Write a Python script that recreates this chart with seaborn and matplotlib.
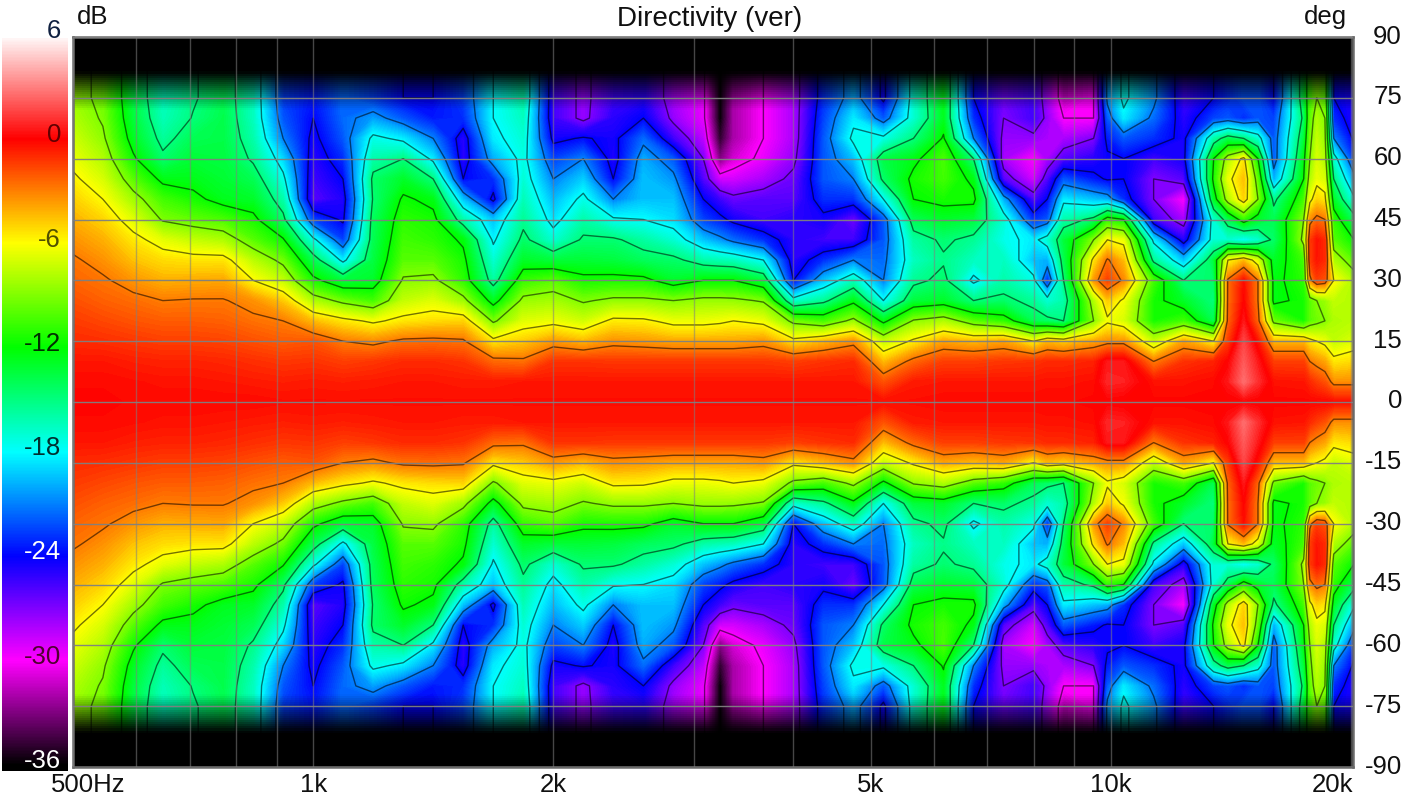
import numpy as np
import matplotlib
matplotlib.use("Agg")
import matplotlib.pyplot as plt
from matplotlib.colors import LinearSegmentedColormap
from matplotlib.transforms import ScaledTranslation
import seaborn as sns

sns.set_style("white")
plt.rcParams["font.family"] = ["Liberation Sans", "DejaVu Sans"]

angles = [0, 5, 10, 15, 20, 25, 30, 35, 40, 45, 50, 55, 60, 65, 70, 75]
freqs = [500, 545, 595, 648, 707, 771, 841, 917, 1000, 1090, 1189, 1297, 1414, 1542, 1682, 1834,
         2000, 2181, 2378, 2594, 2828, 3084, 3236, 3364, 3668, 4000, 4362, 4757, 5187, 5657, 6169,
         6727, 7336, 8000, 8325, 8724, 9514, 9900, 10375, 11314, 12338, 13454, 14020, 14672, 15290,
         16000, 17448, 17760, 18120, 18550, 19027, 20749]

c500 = [-.1, -.2, -.5, -1, -1.4, -1.9, -2.4, -2.8, -3.5, -4.2, -4.9, -5.7, -6.5, -7.2, -7.9, -8.4]
c545 = [-.1, -.2, -.5, -1.1, -1.7, -2.3, -2.8, -3.5, -4.2, -5, -6, -7, -7.9, -8.7, -9.2, -9.4]
c595 = [-.2, -.3, -.7, -1.3, -2, -2.6, -3.6, -4.6, -5.5, -6.8, -8.3, -10, -11.7, -12.8, -13.4, -13.7]
c648 = [-.2, -.4, -.8, -1.5, -2.2, -3, -4.2, -5.2, -6.7, -9.2, -10.5, -12.5, -14.6, -15.6, -16.3, -16.5]
c707 = [-.2, -.4, -.8, -1.5, -2.2, -2.9, -4.1, -5.4, -7.5, -9.8, -11.5, -12.6, -13.3, -14, -14.9, -15.2]
c771 = [-.2, -.5, -.9, -1.6, -2.3, -2.9, -4, -5.4, -8, -10.3, -12.7, -13.2, -13.5, -13.7, -13.8, -14]
c841 = [-.2, -.6, -1.1, -1.9, -2.7, -3.5, -6, -7.7, -10, -11.5, -13, -14, -15.3, -16, -16.5, -16.5]
c917 = [-.3, -.7, -1.3, -2.2, -3, -4.8, -7.5, -9.5, -11.8, -14.5, -16, -17.5, -19, -21, -22, -22.5]
c1000 = [-.3, -.6, -1.2, -2, -4.5, -8, -11.5, -14, -17.5, -22.5, -26, -25.5, -25, -24.5, -24, -23.5]
c1090 = [-.3, -.7, -1.5, -3, -5.5, -9.5, -13.5, -18.5, -22.5, -24.3, -24.8, -24, -23, -22, -21.5, -21.5]
c1189 = [-.3, -.6, -1.3, -3.4, -6.3, -10.5, -13, -13.6, -14, -14.2, -14.8, -14.5, -16, -17.5, -20.3, -22.5]
c1297 = [-.3, -.5, -1, -2.7, -5.5, -7.5, -8.8, -10, -10.5, -11, -11.7, -13, -15, -18.5, -22, -24]
c1414 = [-.3, -.5, -1, -2.6, -5.2, -6.8, -8.6, -10, -11, -11.5, -12.5, -15, -18.5, -21, -23.5, -24]
c1542 = [-.3, -.6, -1.2, -2.8, -5, -8.4, -11, -11.5, -12.3, -16, -19.5, -24, -25, -25, -23, -22.5]
c1682 = [-.3, -.6, -2.5, -5.5, -9.3, -12.8, -15.8, -17, -18.3, -19.5, -24.5, -23, -20, -18.5, -18, -18]
c1834 = [-.3, -.5, -2.7, -4.8, -6.8, -8.5, -10.8, -13, -14.5, -15.5, -16.3, -17, -17.4, -17, -16.5, -16]
c2000 = [-.3, -.5, -1.2, -3.7, -6.5, -8.2, -10, -13.5, -17, -18.7, -19.7, -21, -22.5, -24.5, -25.5, -25.5]
c2181 = [-.3, -.5, -1.2, -4.4, -7.2, -9.2, -11.5, -13.3, -14.7, -16, -17.5, -19.2, -21, -23.8, -27.5, -27.5]
c2378 = [-.3, -.5, -1.3, -3.5, -5.6, -8.6, -11.4, -13.5, -14.7, -17.7, -21, -24, -24.8, -24.5, -25, -25.5]
c2594 = [-.3, -.5, -1.3, -3.7, -5.7, -8.6, -11.5, -14.2, -15.8, -18, -19.5, -19.5, -20, -21.5, -24, -25]
c2828 = [-.3, -.5, -1.3, -4, -6.5, -9, -13, -14.5, -17, -18.8, -19.5, -20.5, -22, -25.5, -27.5, -28]
c3084 = [-.3, -.5, -1.3, -4, -6.5, -8.5, -12, -16, -19.5, -22.5, -24, -26, -27, -28.5, -29.5, -29.5]
c3236 = [-.3, -.5, -1.3, -4, -6.3, -8.5, -12, -16.3, -20.5, -23.5, -25.5, -29, -33, -35, -36, -36]
c3364 = [-.3, -.5, -1.3, -4, -6, -8.6, -12, -16.5, -21.5, -24.5, -26.5, -29, -31, -32, -32, -32]
c3668 = [-.3, -.5, -1.3, -3.6, -6.5, -9.2, -13.5, -18, -23, -25.5, -26, -28, -29.5, -30, -30, -30]
c4000 = [-.3, -.5, -1.5, -5.5, -9.5, -17, -24, -25, -25, -25, -26, -26.5, -27.5, -28, -28, -28]
c4362 = [-.3, -.5, -1.2, -4.5, -10.5, -15.5, -19.5, -23, -25.5, -24.5, -23, -22, -22, -22, -22.5, -23]
c4757 = [-.3, -.5, -1, -3.5, -8.5, -12.5, -16.5, -21, -25.5, -26.5, -23, -21, -19.5, -17.5, -18.5, -20]
c5187 = [-.3, -2, -4.5, -7.5, -12.5, -18, -21, -21.5, -22, -22, -18, -14.5, -13.7, -17.5, -22, -24.5]
c5657 = [-.3, -.6, -2.5, -5.7, -8.8, -13.5, -15.5, -16.5, -15.8, -14, -12, -11.5, -12.5, -15, -17, -17]
c6169 = [-.2, -.5, -1.5, -4, -8, -13, -14.5, -15.2, -14.7, -13, -11.5, -10.5, -10.3, -11.8, -12.8, -12.5]
c6727 = [-.2, -.5, -1.5, -4.5, -10, -15, -18.5, -16.5, -15.5, -13.5, -11.5, -12.5, -15, -21, -23, -24]
c7336 = [-.2, -.5, -1.3, -4, -11, -14.5, -16, -16.5, -17.5, -17, -20, -26, -28, -27.5, -27, -26.5]
c8000 = [-.2, -.5, -1.2, -6, -14, -15.6, -17.5, -19.5, -18.5, -23, -26, -29, -30, -27.5, -25.5, -25.5]
c8325 = [-.2, -.4, -1, -4.5, -14.5, -17, -23, -20, -17, -22, -24, -26, -28, -28, -27.5, -28]
c8724 = [-.2, -.4, -1, -5, -15, -16, -15, -14, -13.5, -16, -18.5, -22, -26, -28, -30, -31]
c9514 = [-.1, -.3, -.8, -4, -9, -8, -3.7, -5.5, -9, -14.5, -19.5, -23.5, -25, -27, -30, -30]
c9900 = [0, .8, .5, -3.5, -6.3, -4.8, -1.5, -2.8, -6, -11, -20, -24.2, -24.3, -23.5, -22, -20.5]
c10375 = [-.1, .7, .5, -3.5, -7, -6.3, -3.3, -4.5, -6.5, -12, -23, -24, -24, -22, -18.5, -17.5]
c11314 = [-.1, -.4, -3, -7.5, -11.5, -11.5, -10.5, -15.5, -18.5, -25.5, -27, -27, -25.5, -23, -21.5, -20.5]
c12338 = [-.1, -.4, -1.2, -4, -10.5, -13, -15, -19.5, -25, -28, -30, -26, -24.5, -24.5, -25, -25.5]
c13454 = [-.1, -.2, -.8, -6, -14, -15, -14.5, -13.5, -17, -17, -13, -11.5, -12, -16, -22.5, -24]
c14020 = [-.1, .5, 0, -1.5, -2.5, -2.7, -2.8, -6, -17, -14, -8, -6.5, -8, -14, -22, -23]
c14672 = [0, 2.5, 2, 1.5, .5, -.1, -.3, -4.5, -18, -11, -5, -4.5, -5.5, -15, -23, -22]
c15290 = [-.1, 1, .5, -.5, -2.5, -3, -3, -7, -17, -13, -9, -10, -12, -17, -22, -22]
c16000 = [-.1, -.4, -1.5, -4.5, -9.5, -12.5, -12.5, -13, -14.5, -14, -15.5, -20, -22, -22, -22.5, -24]
c17448 = [-.1, -.5, -1.5, -4.5, -11.5, -11.5, -11, -10.5, -8.5, -9, -10.5, -12, -12.5, -13.5, -14.5, -13.5]
c17760 = [-.1, -1, -3, -5.5, -10, -10, -3.5, -1.5, -1.5, -3.5, -6.5, -8, -9, -9.5, -10, -10.5]
c18120 = [-.1, -1.5, -3.5, -6, -9.5, -9, -1.5, -.5, -.4, -2.5, -5, -6.5, -7, -7.5, -8, -9]
c18550 = [-.1, -2, -4, -6.5, -9, -8.5, -2, -1, -1, -3, -5.5, -7, -8, -8.5, -9, -10]
c19027 = [-.2, -3.5, -5.5, -7.5, -8, -7.5, -6, -8, -10, -11, -13, -15, -17, -21, -23, -24]
c20749 = [-.2, -3.5, -5, -6.5, -7.5, -8, -9, -11, -13, -16, -20, -23, -26, -26, -26, -25]

columns = [c500, c545, c595, c648, c707, c771, c841, c917, c1000, c1090, c1189, c1297, c1414, c1542,
           c1682, c1834, c2000, c2181, c2378, c2594, c2828, c3084, c3236, c3364, c3668, c4000, c4362,
           c4757, c5187, c5657, c6169, c6727, c7336, c8000, c8325, c8724, c9514, c9900, c10375, c11314,
           c12338, c13454, c14020, c14672, c15290, c16000, c17448, c17760, c18120, c18550, c19027, c20749]

db_scale_labels = ["6", "0", "-6", "-12", "-18", "-24", "-30", "-36"]
db_scale_values = [6, 0, -6, -12, -18, -24, -30, -36]
db_label_colors = ["#102040", "#600000", "#505000", "#003000", "#003030", "white", "#500030", "white"]
angle_ticks = [90, 75, 60, 45, 30, 15, 0, -15, -30, -45, -60, -75, -90]
minor_freqs = [600, 700, 800, 900, 3000, 4000, 6000, 7000, 8000, 9000]
major_freqs = [500, 1000, 2000, 5000, 10000, 20000]
major_labels = ["500Hz", "1k", "2k", "5k", "10k", "20k"]
contour_levels = [-30, -27, -24, -21, -18, -15, -12, -9, -6, -3]

W, H = 1416, 798
fig = plt.figure(figsize=(W / 100, H / 100), dpi=100, facecolor="white")


def axes_px(x0, y0, x1, y1):
    return fig.add_axes([x0 / W, 1 - y1 / H, (x1 - x0) / W, (y1 - y0) / H])


cmap = LinearSegmentedColormap.from_list(
    "dir",
    [(0, "black"), (1 / 7, "#ff00ff"), (2 / 7, "#0000ff"), (3 / 7, "#00ffff"),
     (4 / 7, "#00ff00"), (5 / 7, "#ffff00"), (6 / 7, "#ff0000"), (1, "white")],
    N=512,
)

# colour scale strip on the left
cax = axes_px(2, 38, 68, 771)
bar_levels = np.linspace(5.73, -36.28, 733).reshape(-1, 1)
sns.heatmap(bar_levels, cmap=cmap, vmin=-36, vmax=6, cbar=False, xticklabels=False,
            yticklabels=False, ax=cax, rasterized=True)
cax.set_axis_off()
for lab, val, col in zip(db_scale_labels, db_scale_values, db_label_colors):
    ypx = 135.5 - val * 17.37
    fig.text(61 / W, 1 - ypx / H, lab, ha="right", va="center", fontsize=18.5, color=col)

# main map
ax = axes_px(73, 37, 1353, 767)
ax.set_facecolor("black")
top = np.array(columns, dtype=float).T
top = np.vstack([top, top[-1]])
ang_top = np.array(angles + [85], dtype=float)
Z = np.vstack([top[:0:-1], top])
ang = np.concatenate([-ang_top[:0:-1], ang_top])
ax.set_xscale("log")
fill_levels = np.linspace(-36, 6, 253)
cf = ax.contourf(freqs, ang, Z, levels=fill_levels, cmap=cmap, extend="both", antialiased=False)

# fade to black past the last measured angle
fade_ang = np.linspace(72, 85, 27)
fade_alpha = np.clip(((fade_ang[:-1] + fade_ang[1:]) / 2 - 72) / 9.5, 0, 1)
black_fade = LinearSegmentedColormap.from_list("fade", [(0, 0, 0, 0), (0, 0, 0, 1)])
xedge = [500, 20200]
ax.pcolormesh(xedge, fade_ang, fade_alpha.reshape(-1, 1), cmap=black_fade, vmin=0, vmax=1)
ax.pcolormesh(xedge, -fade_ang[::-1], fade_alpha[::-1].reshape(-1, 1), cmap=black_fade, vmin=0, vmax=1)
ax.contour(freqs, ang, Z, levels=contour_levels, colors="black", linewidths=1.0, alpha=0.55,
           linestyles="solid")

ax.set_xlim(500, 20116)
ax.set_ylim(-90, 90)
ax.set_axisbelow(False)
ax.set_xticks(major_freqs)
ax.set_xticklabels(major_labels)
ax.set_xticks(minor_freqs, minor=True)
ax.set_xticklabels([""] * len(minor_freqs), minor=True)
ax.set_yticks(angle_ticks)
ax.set_yticklabels([str(a) for a in angle_ticks])
ax.yaxis.tick_right()
ax.grid(True, axis="y", color="#808080", linewidth=1.0, alpha=0.95)
ax.grid(True, axis="x", which="both", color="#808080", linewidth=1.0, alpha=0.55)
ax.tick_params(which="both", length=0)
ax.tick_params(axis="x", labelsize=18.5, pad=4, colors="#101010")
ax.tick_params(axis="y", labelsize=18.5, pad=0, colors="#101010")
for lab in ax.get_yticklabels():
    lab.set_ha("right")
    lab.set_transform(lab.get_transform() + ScaledTranslation(49 / 100, 3 / 100, fig.dpi_scale_trans))
xlabs = ax.get_xticklabels()
xlabs[0].set_transform(xlabs[0].get_transform() + ScaledTranslation(15 / 100, 0, fig.dpi_scale_trans))
xlabs[-1].set_ha("right")
xlabs[-1].set_transform(xlabs[-1].get_transform() + ScaledTranslation(2 / 100, 0, fig.dpi_scale_trans))
for s in ax.spines.values():
    s.set_visible(True)
    s.set_color("#6a6a6a")
    s.set_linewidth(1.8)

fig.text(710 / W, 1 - 19 / H, "Directivity (ver)", ha="center", va="center", fontsize=20, color="#101010")
fig.text(77 / W, 1 - 17 / H, "dB", ha="left", va="center", fontsize=18.5, color="#101010")
fig.text(1347 / W, 1 - 17 / H, "deg", ha="right", va="center", fontsize=18.5, color="#101010")

fig.savefig("out.png", dpi=100, facecolor="white")
